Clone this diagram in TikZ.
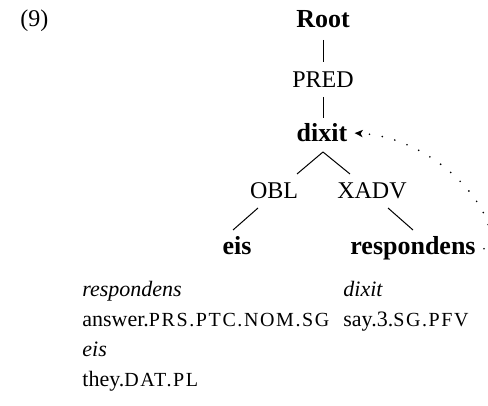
\documentclass[tikz,border=0pt]{standalone}
\usepackage{fontspec}
\setmainfont{Liberation Serif}
\newfontfamily\scfont[LetterSpace=8]{Liberation Serif}
\usetikzlibrary{arrows.meta,calc}
\newcommand\gsc[1]{{\fontsize{10}{10}\scfont #1}}
\begin{document}
\begin{tikzpicture}[x=0.5pt,y=-0.5pt,
  lab/.style={inner sep=0pt,anchor=base,font=\fontsize{12}{14}\selectfont},
  blab/.style={inner sep=0pt,anchor=base,font=\fontsize{13}{15}\selectfont\bfseries},
  gl/.style={inner sep=0pt,anchor=base west,font=\fontsize{11}{15}\selectfont},
  edge/.style={line width=0.5pt},
  link/.style={line width=0.9pt,dash pattern=on 0pt off 6.5pt,line cap=round,
    -{Stealth[length=4pt,width=3.6pt,inset=1pt]}}]
\useasboundingbox (0,0) rectangle (488,406);
\node[lab,anchor=base west] (ex) at (20,27) {(9)};
\node[blab] (root) at (323,28) {Root};
\node[lab] (pred) at (323,88) {PRED};
\node[blab] (dixit) at (322,142) {dixit};
\node[lab] (obl) at (274,199) {OBL};
\node[lab] (xadv) at (372,199) {XADV};
\node[blab] (eis) at (237,255) {eis};
\node[blab] (resp) at (413,255) {respondens};
\draw[edge] ($(root.base)+(0,12)$) -- ($(pred.base)+(0,-26)$);
\draw[edge] ($(pred.base)+(0,9)$) -- ($(dixit.base)+(1,-24)$);
\draw[edge] ($(dixit.base)+(1,10)$) -- ($(obl.base)+(23,-25)$);
\draw[edge] ($(dixit.base)+(1,10)$) -- ($(xadv.base)+(-22,-25)$);
\draw[edge] ($(obl.base)+(-16,9)$) -- ($(eis.base)+(-4,-25)$);
\draw[edge] ($(xadv.base)+(16,9)$) -- ($(resp.base)+(0,-25)$);
\draw[link] ($(resp.east)+(8,0)$) .. controls (510,228) and (445,138) .. ($(dixit.east)+(7,0)$);
\node[gl] (g1) at (82,297) {\itshape respondens};
\node[gl] (g2) at (82,327) {answer.\gsc{PRS.PTC.NOM.SG}};
\node[gl] (g3) at (82,357) {\itshape eis};
\node[gl] (g4) at (82,387) {they.\gsc{DAT.PL}};
\node[gl] (g5) at (343,297) {\itshape dixit};
\node[gl] (g6) at (343,327) {say.3.\gsc{SG.PFV}};
\end{tikzpicture}
\end{document}
